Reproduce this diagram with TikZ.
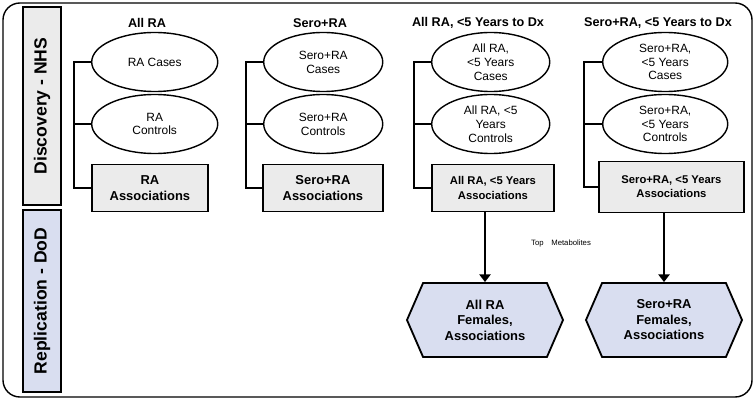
\documentclass[tikz,border=0pt]{standalone}
\usepackage{fontspec}
\setmainfont{Liberation Sans}
\usetikzlibrary{shapes.geometric,shapes.symbols,arrows.meta}
\definecolor{boxgray}{HTML}{EBEBEB}
\definecolor{hexblue}{HTML}{D9DEF0}
\begin{document}
\begin{tikzpicture}[x=0.025cm, y=-0.025cm,
    stage/.style={draw, line width=1pt, rotate=90, minimum height=9.5mm, inner sep=0pt,
        font=\bfseries\fontsize{12.5}{14}\selectfont},
    title/.style={font=\bfseries\fontsize{9}{11}\selectfont},
    group/.style={ellipse, draw, line width=1pt, anchor=west, inner sep=0pt,
        minimum height=14.75mm, align=center, font=\fontsize{8.5}{9.8}\selectfont},
    assoc/.style={draw, line width=1.3pt, fill=boxgray, anchor=west, inner sep=0pt,
        minimum height=11.75mm, align=center, font=\bfseries\fontsize{9.2}{11}\selectfont},
    femal/.style={signal, signal to=west and east, signal pointer angle=133, draw,
        line width=1.3pt, fill=hexblue, minimum width=39mm, minimum height=18.5mm,
        inner sep=0pt, align=center, font=\bfseries\fontsize{9.2}{11}\selectfont},
    arm/.style={line width=0.9pt},
    flow/.style={line width=1.3pt, -{Triangle[length=5.5pt,width=8pt]}}]

    \useasboundingbox (0,0) rectangle (755,400);
    % outer frame
    \draw[line width=1pt, rounded corners=12pt] (3,3) rectangle (752,397);

    % stages
    \node[stage, fill=boxgray, minimum width=49.5mm] (disc) at (42,106) {Discovery - NHS};
    \node[stage, fill=hexblue, minimum width=45.5mm] (repl) at (42,301) {Replication - DoD};

    % All RA
    \begin{scope}[shift={(74,0)}]
        \coordinate (k) at (0,0);
        \node[title] (t) at (73,23) {All RA};
        \node[group, minimum width=31.5mm] (e1) at (17,62) {RA Cases};
        \node[group, minimum width=31.5mm] (e2) at (17,124) {RA\\Controls};
        \node[assoc, minimum width=29mm] (b) at (17,188) {RA\\Associations};
        \draw[arm] (e1.west) -| (k |- b.west) -- (b.west);
        \draw[arm, line width=2pt] (e2.west) -- (k |- e2.west);
    \end{scope}

    % Sero+RA
    \begin{scope}[shift={(246,0)}]
        \coordinate (k) at (0,0);
        \node[title] (t) at (74,23) {Sero+RA};
        \node[group, minimum width=29.75mm] (e1) at (17,62) {Sero+RA\\Cases};
        \node[group, minimum width=29.75mm] (e2) at (17,124) {Sero+RA\\Controls};
        \node[assoc, minimum width=30mm] (b) at (16,188) {Sero+RA\\Associations};
        \draw[arm] (e1.west) -| (k |- b.west) -- (b.west);
        \draw[arm, line width=2pt] (e2.west) -- (k |- e2.west);
    \end{scope}

    % All RA, <5 years
    \begin{scope}[shift={(414,0)}]
        \coordinate (k) at (0,0);
        \node[title] (t) at (64,23) {All RA, <5 Years to Dx};
        \node[group, minimum width=29.5mm] (e1) at (17,62) {All RA,\\<5 Years\\Cases};
        \node[group, minimum width=29.5mm] (e2) at (17,124) {All RA, <5\\Years\\Controls};
        \node[assoc, minimum width=30.5mm, font=\bfseries\fontsize{8}{10}\selectfont] (b) at (17,188)
            {All RA, <5 Years\\Associations};
        \draw[arm] (e1.west) -| (k |- b.west) -- (b.west);
        \draw[arm, line width=2pt] (e2.west) -- (k |- e2.west);
        \node[femal] (h) at (71,320) {All RA\\Females,\\Associations};
        \draw[flow] (h.north |- b.south) -- (h.north);
    \end{scope}

    % Sero+RA, <5 years
    \begin{scope}[shift={(584,0)}]
        \coordinate (k) at (0,0);
        \node[title] (t) at (74,23) {Sero+RA, <5 Years to Dx};
        \node[group, minimum width=31.25mm] (e1) at (18,62) {Sero+RA,\\<5 Years\\Cases};
        \node[group, minimum width=31.25mm] (e2) at (18,124) {Sero+RA,\\<5 Years\\Controls};
        \node[assoc, minimum width=36.25mm, minimum height=12.75mm, font=\bfseries\fontsize{8}{10}\selectfont]
            (b) at (14,187) {Sero+RA, <5 Years\\Associations};
        \draw[arm] (e1.west) -| (k |- b.west) -- (b.west);
        \draw[arm, line width=2pt] (e2.west) -- (k |- e2.west);
        \node[femal] (h) at (80,320) {Sero+RA\\Females,\\Associations};
        \draw[flow] (h.north |- b.south) -- (h.north);
    \end{scope}

    \node[font=\fontsize{5.5}{6.5}\selectfont] (top) at (561,243) {Top\quad Metabolites};
\end{tikzpicture}
\end{document}
